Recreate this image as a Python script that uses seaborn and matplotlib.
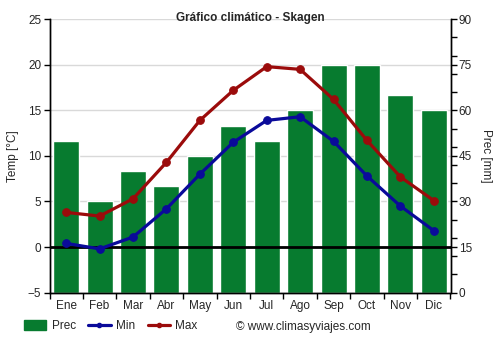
import numpy as np
import pandas as pd
import matplotlib
matplotlib.use("Agg")
import matplotlib.pyplot as plt
import seaborn as sns
from matplotlib.patches import Patch
from matplotlib.lines import Line2D
from matplotlib.ticker import MultipleLocator

months = ["Ene", "Feb", "Mar", "Abr", "May", "Jun", "Jul", "Ago", "Sep", "Oct", "Nov", "Dic"]
prec = [50, 30, 40, 35, 45, 55, 50, 60, 75, 75, 65, 60]
tmin = [0.4, -0.2, 1.1, 4.2, 8.0, 11.5, 13.9, 14.3, 11.6, 7.8, 4.5, 1.8]
tmax = [3.8, 3.4, 5.3, 9.3, 13.9, 17.2, 19.8, 19.5, 16.2, 11.7, 7.7, 5.1]

GREEN = "#077b2f"
BLUE = "#0a0a9a"
RED = "#9b0b0b"
T_LIM = (-5, 25)
P_LIM = (0, 90)

sns.set_style("white")
plt.rcParams["font.family"] = ["Liberation Sans", "DejaVu Sans"]
plt.rcParams["font.size"] = 8.5

fig = plt.figure(figsize=(5, 3.5), dpi=100)
ax = fig.add_axes([0.099, 0.164, 0.802, 0.781])
ax2 = ax.twinx()
ax.set_zorder(ax2.get_zorder() + 1)
ax.patch.set_visible(False)

df = pd.DataFrame({"mes": months, "prec": prec, "tmin": tmin, "tmax": tmax, "pos": np.arange(len(months))})

sns.barplot(data=df, x="pos", y="prec", ax=ax2, color=GREEN, saturation=1, width=0.78, zorder=2)
ax2.set_ylim(*P_LIM)

ax.axhline(0, color="black", lw=2, zorder=1)
sns.lineplot(data=df, x="pos", y="tmin", ax=ax, color=BLUE, lw=2.3, marker="o", markersize=5.5,
             markeredgecolor=BLUE, zorder=3)
sns.lineplot(data=df, x="pos", y="tmax", ax=ax, color=RED, lw=2.3, marker="o", markersize=5.5,
             markeredgecolor=RED, zorder=3)

ax.set_ylim(*T_LIM)
ax.set_xlim(-0.5, len(months) - 0.5)
ax.yaxis.set_major_locator(MultipleLocator(5))
ax2.yaxis.set_major_locator(MultipleLocator(15))
ax2.yaxis.set_minor_locator(MultipleLocator(6))

# x ticks: marks at category boundaries, labels at centers
ax.set_xticks(np.arange(-0.5, len(months), 1))
ax.set_xticklabels([])
ax.set_xticks(np.arange(len(months)), minor=True)
ax.set_xticklabels(months, minor=True)
ax.tick_params(axis="x", which="major", length=4, width=1, color="black", direction="out", bottom=True)
ax.tick_params(axis="x", which="minor", length=0, pad=5, labelsize=8.5)
ax.tick_params(axis="y", length=4, width=1, color="black", direction="out", left=True, labelsize=8.5, pad=2)
ax2.tick_params(axis="y", which="major", length=4, width=1, color="black", direction="out", right=True, labelsize=8.5, pad=2)
ax2.tick_params(axis="y", which="minor", length=4, width=1, color="black", direction="out", right=True)

ax.set_xlabel("")
ax.set_ylabel("Temp [°C]", fontsize=8.5, labelpad=6)
ax2.set_xlabel("")
ax2.set_ylabel("Prec [mm]", fontsize=8.5, rotation=270, labelpad=14)

ax.grid(False)
ax2.grid(True, which="major", axis="both", color="#d9d9d9", lw=1, zorder=0)
ax2.set_axisbelow(True)

for a in (ax, ax2):
    a.spines["top"].set_visible(False)
    for s in ("left", "right", "bottom"):
        a.spines[s].set_color("black")
        a.spines[s].set_linewidth(1)

fig.text(0.5, 1 - 18 / 350, "Gráfico climático - Skagen", fontsize=8.5, fontweight="bold",
         ha="center", va="center")

handles = [
    Patch(facecolor=GREEN, edgecolor=GREEN),
    Line2D([0], [0], color=BLUE, lw=2.3, marker="o", markersize=3),
    Line2D([0], [0], color=RED, lw=2.3, marker="o", markersize=3),
]
fig.legend(handles, ["Prec", "Min", "Max"], loc="center left", bbox_to_anchor=(0.048, 0.068),
           ncol=3, frameon=False, fontsize=8.5, handlelength=1.9, handleheight=0.9,
           columnspacing=1.05, handletextpad=0.45, borderpad=0, borderaxespad=0)
fig.text(0.472, 0.067, "© www.climasyviajes.com", fontsize=8.5, va="center", ha="left")

fig.savefig("out.png", dpi=100)
